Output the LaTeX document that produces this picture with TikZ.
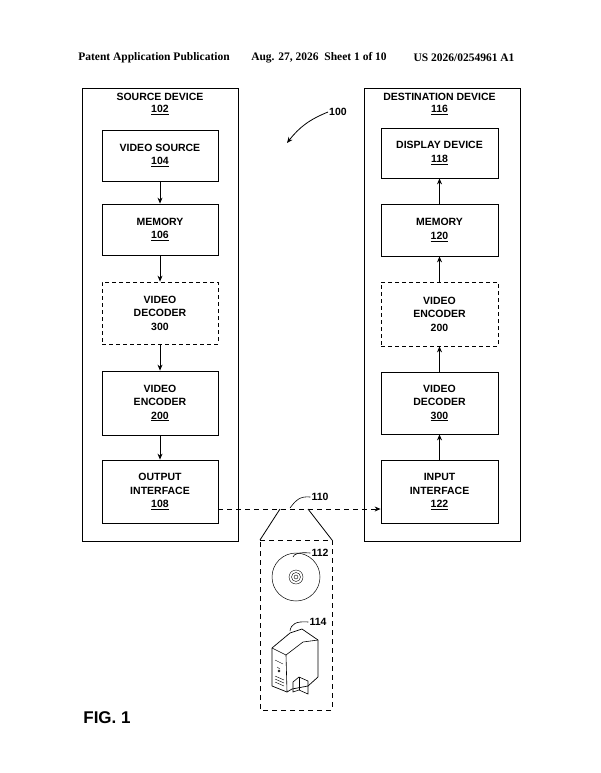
\documentclass[tikz,border=0pt]{standalone}
\usepackage{fontspec}
\setmainfont{Liberation Sans}
\newfontfamily\hdr{Liberation Serif}
\usetikzlibrary{arrows.meta}
\begin{document}
\begin{tikzpicture}[x=1pt,y=-1pt,
  blk/.style={draw,line width=0.8pt,font=\bfseries\fontsize{10.5}{13.5}\selectfont,align=center,inner sep=0pt},
  dblk/.style={blk,dashed,dash pattern=on 4pt off 3pt},
  outer/.style={draw,line width=0.8pt},
  arr/.style={-{Stealth[length=6pt,width=5pt]},line width=0.8pt},
  lbl/.style={font=\bfseries\fontsize{10.5}{12.5}\selectfont,inner sep=1pt},
  dsh/.style={line width=0.8pt,dash pattern=on 5pt off 4pt}]
\useasboundingbox (0,0) rectangle (600,773);
\node[font=\hdr\bfseries\fontsize{11.5}{13}\selectfont] (h1) at (154,58) {Patent Application Publication};
\node[font=\hdr\bfseries\fontsize{11.5}{13}\selectfont] (h2) at (319,58) {Aug. 27, 2026\ \ Sheet 1 of 10};
\node[font=\hdr\bfseries\fontsize{11.5}{13}\selectfont] (h3) at (464,58) {US 2026/0254961 A1};
% source
\draw[outer] (82,88) rectangle (238,541);
\node[lbl,align=center] (st) at (160,104) {SOURCE DEVICE\\\underline{102}};
\node[blk,minimum width=116pt,minimum height=51pt] (vs) at (160,155.5) {VIDEO SOURCE\\\underline{104}};
\node[blk,minimum width=116pt,minimum height=51pt] (m1) at (160,229.5) {MEMORY\\\underline{106}};
\node[dblk,minimum width=116pt,minimum height=62pt] (vd1) at (160,313) {VIDEO\\DECODER\\300};
\node[blk,minimum width=116pt,minimum height=64pt] (ve1) at (160,403) {VIDEO\\ENCODER\\\underline{200}};
\node[blk,minimum width=116pt,minimum height=63pt] (oi) at (160,491.5) {OUTPUT\\INTERFACE\\\underline{108}};
\draw[arr] (vs) -- (m1);
\draw[arr] (m1) -- (vd1);
\draw[arr] (vd1) -- (ve1);
\draw[arr] (ve1) -- (oi);
% destination
\draw[outer] (364,88) rectangle (520,541);
\node[lbl,align=center] (dt) at (439.5,104) {DESTINATION DEVICE\\\underline{116}};
\node[blk,minimum width=117pt,minimum height=50pt] (dd) at (439.5,153) {DISPLAY DEVICE\\\underline{118}};
\node[blk,minimum width=117pt,minimum height=52pt] (m2) at (439.5,230) {MEMORY\\\underline{120}};
\node[dblk,minimum width=117pt,minimum height=64pt] (ve2) at (439.5,314) {VIDEO\\ENCODER\\200};
\node[blk,minimum width=117pt,minimum height=62pt] (vd2) at (439.5,403) {VIDEO\\DECODER\\\underline{300}};
\node[blk,minimum width=117pt,minimum height=63pt] (ii) at (439.5,491.5) {INPUT\\INTERFACE\\\underline{122}};
\draw[arr] (ii) -- (vd2);
\draw[arr] (vd2) -- (ve2);
\draw[arr] (ve2) -- (m2);
\draw[arr] (m2) -- (dd);
% 100
\node[lbl] (l100) at (338,112) {100};
\coordinate (a100) at (287,143);
\draw[arr] (l100.west) to[bend right=15] (a100);
% link
\draw[arr,dsh] (oi.east |- 0,509) -- (ii.west |- 0,509);
\coordinate (t1) at (280,509); \coordinate (t2) at (308,509);
\coordinate (b1) at (260,540); \coordinate (b2) at (332,540);
\draw[line width=0.8pt] (t1) -- (b1) (t2) -- (b2);
\draw[dsh] (b1) -- (b2) -- (332,710) -- (260,710) -- cycle;
\node[lbl] (l110) at (320,497) {110};
\draw[line width=0.6pt] (l110.west) .. controls (300,496) and (296,500) .. (290,508);
% disc
\coordinate (dc) at (296,577);
\draw[line width=0.5pt] (dc) circle (24);
\draw[line width=0.4pt] (dc) circle (7) (dc) circle (4.5) (dc) circle (2);
\node[lbl] (l112) at (320,553) {112};
\draw[line width=0.6pt] (l112.west) .. controls (298,552) and (294,554) .. (293,557);
% server
\draw[line width=0.7pt,line join=round] (272,648) -- (290,633) -- (302,629) -- (318,640) -- (318,677) -- (308,686) -- (292,689) -- (287,692) -- (272,686) -- cycle;
\draw[line width=0.6pt] (272,648) -- (286,655) -- (303,642) -- (318,640);
\draw[line width=0.6pt] (286,655) -- (287,692);
\draw[line width=0.6pt] (293,682) -- (299,677) -- (308,681) -- (308,694) -- (299,690) -- (293,692) -- cycle;
\draw[line width=0.6pt] (299,677) -- (299,690);
\draw[line width=0.4pt] (275,660) -- (283,664) (277,667) -- (280,669) (275,676) -- (284,680) (275,679) -- (284,683) (275,682) -- (284,686);
\draw[line width=0.4pt] (279,671) circle (1);
\node[lbl] (l114) at (318,622) {114};
\draw[line width=0.6pt] (l114.west) .. controls (296,621) and (291,624) .. (290,631);
\node[font=\bfseries\fontsize{17}{19}\selectfont] (fig) at (107,718) {FIG. 1};
\end{tikzpicture}
\end{document}
